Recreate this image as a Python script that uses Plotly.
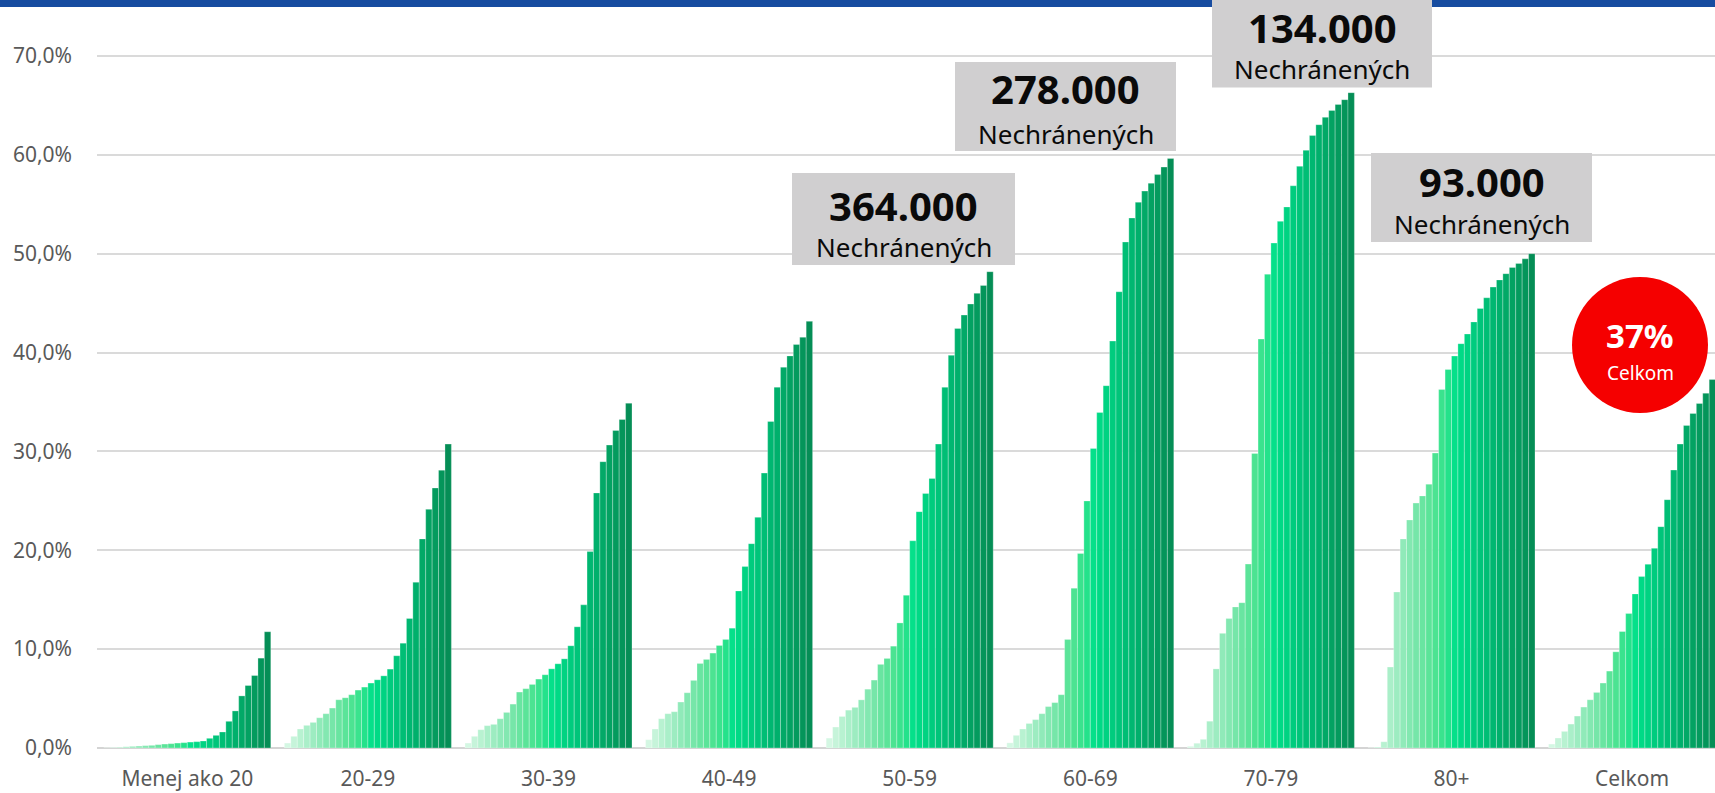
import plotly.graph_objects as go

# ---------------- data ----------------
categories = ["Menej ako 20", "20-29", "30-39", "40-49", "50-59",
              "60-69", "70-79", "80+", "Celkom"]

# 26 bars per age group (share of unprotected, in %)
g_under20 = [0.02, 0.05, 0.08, 0.13, 0.17, 0.2, 0.24, 0.27, 0.34, 0.4, 0.44, 0.5, 0.54,
             0.6, 0.64, 0.71, 0.98, 1.28, 1.62, 2.7, 3.75, 5.27, 6.32, 7.33, 9.09, 11.76]
g_20_29 = [0.5, 1.18, 1.92, 2.29, 2.59, 3.06, 3.47, 4.04, 4.88, 5.08, 5.39, 5.86, 6.16,
           6.57, 6.9, 7.3, 7.98, 9.33, 10.6, 13.1, 16.77, 21.15, 24.14, 26.3, 28.1, 30.74]
g_30_39 = [0.5, 1.18, 1.85, 2.26, 2.39, 2.96, 3.6, 4.44, 5.66, 6.0, 6.43, 6.97, 7.41,
           8.01, 8.52, 9.02, 10.34, 12.26, 14.48, 19.87, 25.8, 28.96, 30.64, 32.12, 33.23, 34.88]
g_40_49 = [0.84, 1.92, 2.96, 3.47, 3.67, 4.65, 5.59, 6.84, 8.55, 8.96, 9.6, 10.37, 10.98,
           12.12, 15.89, 18.35, 20.67, 23.33, 27.81, 33.03, 36.5, 38.52, 39.66, 40.81, 41.55, 43.16]
g_50_59 = [1.0, 2.12, 3.19, 3.83, 4.11, 4.87, 5.95, 6.87, 8.46, 9.06, 10.3, 12.65, 15.45,
           20.96, 23.91, 25.75, 27.27, 30.74, 36.49, 39.72, 42.44, 43.79, 44.91, 45.99, 46.79, 48.18]
g_60_69 = [0.52, 1.28, 1.92, 2.48, 2.87, 3.47, 4.19, 4.59, 5.39, 10.98, 16.17, 19.68, 24.99,
           30.3, 33.93, 36.65, 41.16, 46.15, 51.18, 53.61, 55.21, 56.33, 57.13, 58.0, 58.76, 59.64]
g_70_79 = [0.17, 0.48, 0.88, 2.71, 8.0, 11.6, 13.09, 14.27, 14.7, 18.6, 29.8, 41.36, 47.93,
           51.08, 53.27, 54.73, 56.87, 58.84, 60.46, 61.95, 63.05, 63.79, 64.49, 65.1, 65.58, 66.29]
g_80plus = [0.02, 0.1, 0.63, 8.19, 15.78, 21.15, 23.07, 24.77, 25.5, 26.69, 29.83, 36.27, 38.29,
            39.65, 40.9, 41.88, 43.1, 44.46, 45.54, 46.62, 47.35, 47.98, 48.61, 49.02, 49.48, 50.0]
g_total = [0.4, 1.01, 1.68, 2.42, 3.23, 4.14, 4.88, 5.62, 6.57, 7.78, 9.73, 11.78, 13.6,
           15.59, 17.34, 18.59, 20.2, 22.39, 25.12, 28.11, 30.74, 32.63, 33.84, 34.85, 35.89, 37.27]

groups = [g_under20, g_20_29, g_30_39, g_40_49, g_50_59, g_60_69, g_70_79, g_80plus, g_total]

box_numbers = ["364.000", "278.000", "134.000", "93.000"]
box_label = "Nechránených"
total_pct = "37%"
total_label = "Celkom"

y_ticks = [0, 10, 20, 30, 40, 50, 60, 70]
y_ticktext = ["0,0%", "10,0%", "20,0%", "30,0%", "40,0%", "50,0%", "60,0%", "70,0%"]

# ---------------- style ----------------
bar_colors = ["#d4f7e3", "#c6f4da", "#b8f2d1", "#aaefc9", "#9decc1", "#90eab9", "#83e8b1",
              "#76e6a9", "#69e5a1", "#5be499", "#4ce392", "#3ae38e", "#24e28b", "#05e08a",
              "#00da86", "#00d382", "#00cc7e", "#00c57a", "#00be75", "#00b771", "#00b06c",
              "#02a967", "#03a262", "#049b5e", "#04955a", "#058e56"]

W, H = 1715, 793
PX_L = 97.0          # left edge of plot area (px)
UNIT = 180.6         # px per category
BASE = 748.0         # pixel y of 0 %
PPP = 9.886          # px per percentage point


def dx(px):
    return (px - PX_L) / UNIT - 0.5


def dy(py):
    return (BASE - py) / PPP


fig = go.Figure()
n_series = len(g_total)
for j in range(n_series):
    fig.add_trace(go.Bar(
        x=categories,
        y=[g[j] for g in groups],
        marker=dict(color=bar_colors[j],
                    line=dict(color="rgba(255,255,255,0.35)", width=0.8)),
        showlegend=False,
        hoverinfo="skip",
    ))

shapes = []
# top blue band
shapes.append(dict(type="rect", xref="paper", yref="paper",
                   x0=-PX_L / (W - PX_L), x1=1.0, y0=1 - 7 / BASE, y1=1.0,
                   fillcolor="#174ca0", line=dict(width=0), layer="above"))

# grey label boxes: (x0, x1, y_top, y_bottom, cx, y_num, y_label) in px
boxes = [
    (792, 1015, 173, 265, 903.5, 205, 247),
    (955, 1176, 62, 151, 1065.5, 88, 133.5),
    (1212, 1432, -6, 87.5, 1322, 27, 69),
    (1371, 1592, 153, 242, 1481.5, 181, 224),
]
annotations = []
for (x0, x1, yt, yb, cx, yn, yl), num in zip(boxes, box_numbers):
    shapes.append(dict(type="rect", xref="x", yref="y",
                       x0=dx(x0), x1=dx(x1), y0=dy(yb), y1=dy(yt),
                       fillcolor="#d0cfd0", line=dict(width=0), layer="above"))
    annotations.append(dict(xref="x", yref="y", x=dx(cx), y=dy(yn), text="<b>" + num + "</b>",
                            showarrow=False, xanchor="center", yanchor="middle",
                            font=dict(family="Noto Sans", size=40, color="#0a0a0a")))
    annotations.append(dict(xref="x", yref="y", x=dx(cx), y=dy(yl), text=box_label,
                            showarrow=False, xanchor="center", yanchor="middle",
                            font=dict(family="Noto Sans", size=26, color="#0a0a0a")))

# red circle
ccx, ccy, r = 1640, 345, 68
shapes.append(dict(type="circle", xref="x", yref="y",
                   x0=dx(ccx - r), x1=dx(ccx + r), y0=dy(ccy + r), y1=dy(ccy - r),
                   fillcolor="#f50000", line=dict(width=0), layer="above"))
annotations.append(dict(xref="x", yref="y", x=dx(ccx), y=dy(335), text="<b>" + total_pct + "</b>",
                        showarrow=False, xanchor="center", yanchor="middle",
                        font=dict(family="Noto Sans", size=33, color="white")))
annotations.append(dict(xref="x", yref="y", x=dx(ccx), y=dy(373), text=total_label,
                        showarrow=False, xanchor="center", yanchor="middle",
                        font=dict(family="Noto Sans", size=19, color="white")))

fig.update_layout(
    width=W, height=H,
    margin=dict(l=PX_L, r=0, t=0, b=H - BASE, pad=0),
    paper_bgcolor="white", plot_bgcolor="white",
    barmode="group", bargap=0.0753, bargroupgap=0,
    shapes=shapes,
    annotations=annotations,
    xaxis=dict(type="category", range=[-0.5, dx(W)], showgrid=False, showline=False,
               zeroline=False, ticks="", ticklabelstandoff=16, automargin=False,
               tickfont=dict(family="Noto Sans", size=21, color="#595959")),
    yaxis=dict(range=[0, dy(0)], tickvals=y_ticks, ticktext=y_ticktext,
               showgrid=True, gridcolor="#dadada", gridwidth=2,
               zeroline=True, zerolinecolor="#d4d4d4", zerolinewidth=2,
               showline=False, ticks="", ticklabelstandoff=24, automargin=False,
               tickfont=dict(family="Noto Sans", size=21, color="#595959")),
)

fig.write_html(
    "out.html",
    config={"displayModeBar": False},
    post_script="document.body.style.margin='0';document.body.style.padding='0';"
                "document.body.style.overflow='hidden';",
)
